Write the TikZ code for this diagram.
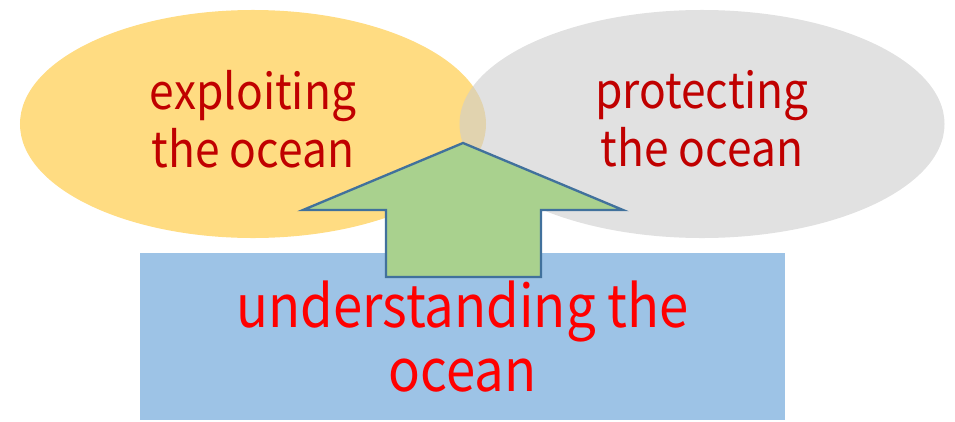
\documentclass[tikz,border=0pt]{standalone}
\usepackage{fontspec}
\setmainfont[FakeStretch=0.9]{Noto Sans CJK JP}
\usepackage{tikz}
\usetikzlibrary{shapes,positioning}
\usepackage{xcolor}
\definecolor{ocyellow}{RGB}{255,220,130}
\definecolor{ocgray}{RGB}{205,205,205}
\definecolor{ocblue}{RGB}{157,195,230}
\definecolor{ocgreen}{RGB}{169,209,142}
\definecolor{ocedge}{RGB}{65,113,156}
\definecolor{ocdarkred}{RGB}{192,0,0}
\definecolor{ocred}{RGB}{255,0,0}
\tikzstyle{goal} = [ellipse, minimum height=6.84cm, inner sep=0pt, outer sep=0pt]
\tikzstyle{goaltext} = [align=center, text=ocdarkred, font=\fontsize{42}{49.5}\selectfont]
\tikzstyle{base} = [rectangle, minimum width=19.35cm, minimum height=5.01cm, inner sep=0pt, fill=ocblue, align=center, text=ocred, font=\fontsize{50}{54.6}\selectfont]
\tikzstyle{uparrow} = [fill=ocgreen, draw=ocedge, line width=2pt, line join=miter]

\begin{document}
\begin{tikzpicture}[x=0.03cm, y=-0.03cm]
\useasboundingbox (0,0) rectangle (955,421);
% the two aims
\node (exploit) [goal, minimum width=13.98cm, fill=ocyellow] at (253,124) {};
\node (protect) [goal, minimum width=14.55cm, fill=ocgray, fill opacity=0.6] at (702,124) {};
\node (exploit text) [goaltext] at ([yshift=0.15cm]exploit.center) {exploiting\\the ocean};
\node (protect text) [goaltext] at ([yshift=0.15cm]protect.center) {protecting\\the ocean};

% what both rest on
\node (understand) [base] at (462.5,336.5) {understanding the\\ocean};

% arrow from the base up to the overlap
\coordinate (tip) at (463,143);
\draw[uparrow] (tip) -- (623,210) -- (541,210) -- (541,277) -- (386,277) -- (386,210) -- (303,210) -- cycle;
\end{tikzpicture}
\end{document}
